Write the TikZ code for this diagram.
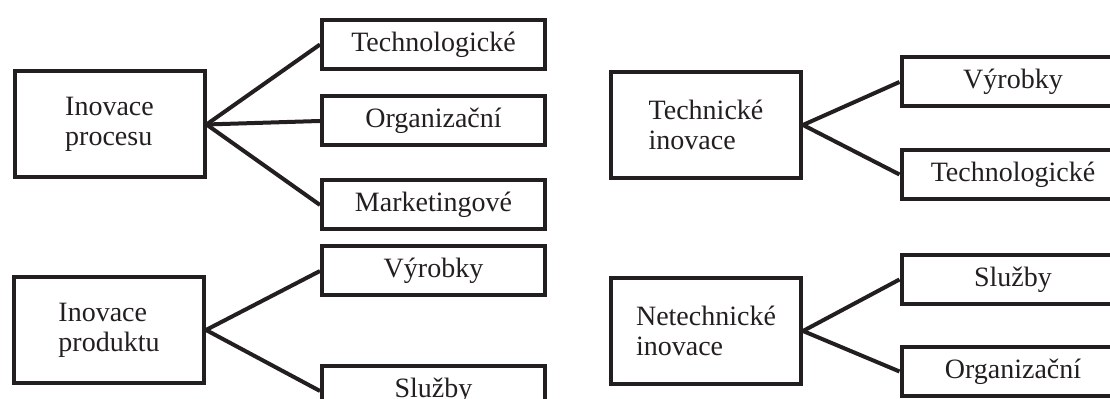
\documentclass[tikz,border=0pt]{standalone}
\usepackage{fontspec}
\setmainfont{Liberation Serif}
\usepackage{tikz}
\usepackage{xcolor}
\usetikzlibrary{positioning}
\definecolor{ink}{RGB}{35,31,32}

\begin{document}
\begin{tikzpicture}[x=0.5pt,y=0.5pt,
    every node/.style={font=\fontsize{14}{15}\selectfont, text=ink},
    mainbox/.style={draw=ink, line width=2pt, align=left, inner sep=0pt,
        minimum width=95pt, minimum height=53pt},
    subbox/.style={draw=ink, line width=2pt, inner sep=0pt,
        minimum width=111.5pt, minimum height=24.5pt},
    link/.style={draw=ink, line width=2pt}]
    \useasboundingbox (0,0) rectangle (1110,399);
    \clip (0,0) rectangle (1110,399);

    % left column
    \node[mainbox] (proc) at (109.5,274.5) {Inovace\\procesu};
    \node[mainbox] (prod) at (109,69) {Inovace\\produktu};
    \foreach \n/\y/\lab in {pa/354.5/Technologické, pb/278/Organizační, pc/194/Marketingové,
        da/128/Výrobky, db/8/Služby}
    {
        \node[subbox] (\n) at (433.5,\y) {\lab};
    }
    \foreach \n in {pa,pb,pc}
        \draw[link] (proc.east) -- (\n.west);
    \foreach \n in {da,db}
        \draw[link] (prod.east) -- (\n.west);

    % right column
    \node[mainbox] (tech) at (706,274) {Technické\\inovace};
    \node[mainbox] (netech) at (706,68) {Netechnické\\inovace};
    \foreach \n/\y/\lab in {ta/317/Výrobky, tb/224.5/Technologické,
        na/119.5/Služby, nb/27.5/Organizační}
    {
        \node[subbox] (\n) at (1013,\y) {\lab};
    }
    \foreach \n in {ta,tb}
        \draw[link] (tech.east) -- (\n.west);
    \foreach \n in {na,nb}
        \draw[link] (netech.east) -- (\n.west);
\end{tikzpicture}
\end{document}
